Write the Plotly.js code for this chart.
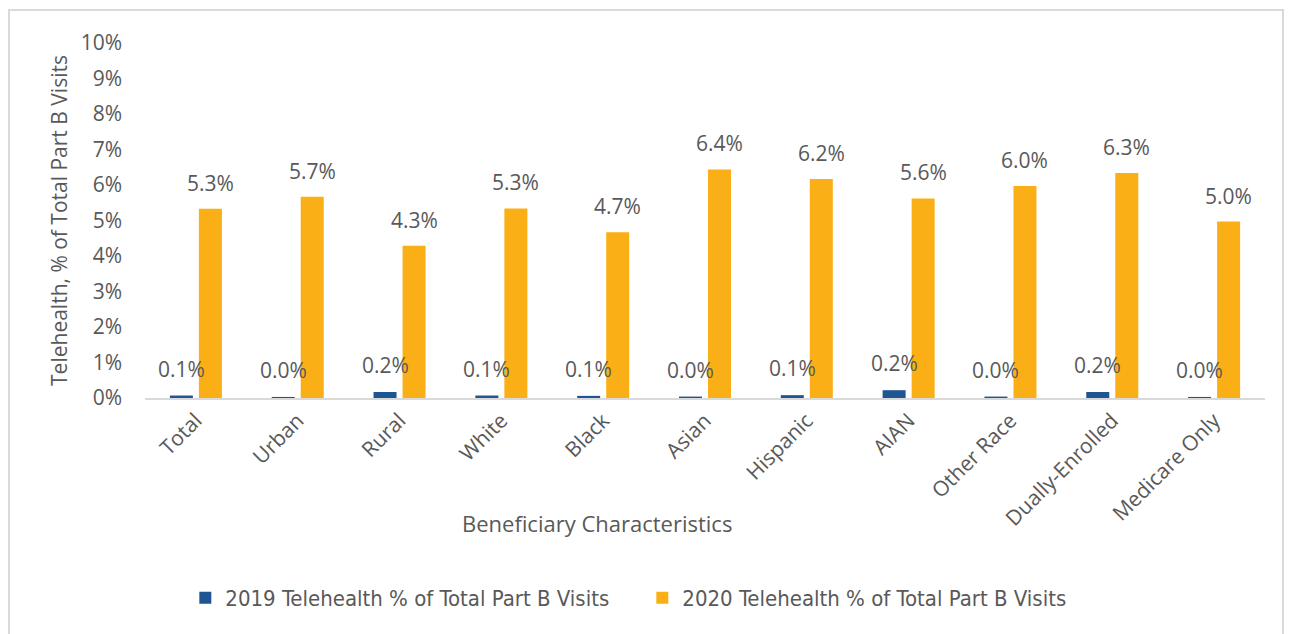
<!DOCTYPE html>
<html><head><meta charset="utf-8">
<script src="https://cdn.plot.ly/plotly-3.0.1.min.js"></script>
<style>
html,body{margin:0;padding:0;background:#fff;}
#frame{position:absolute;left:8px;top:9px;width:1276px;height:640px;border:2px solid #d9d9d9;box-sizing:border-box;}
#chart{position:absolute;left:0;top:0;width:1294px;height:634px;}
</style></head>
<body>
<div id="frame"></div>
<div id="chart"></div>
<script>
const categories = ["Total","Urban","Rural","White","Black","Asian","Hispanic","AIAN","Other Race","Dually-Enrolled","Medicare Only"];
const values2019 = [0.07,0.03,0.17,0.07,0.06,0.04,0.08,0.22,0.04,0.17,0.03];
const values2020 = [5.33,5.67,4.29,5.34,4.67,6.44,6.17,5.62,5.97,6.34,4.97];
const yTickVals = [0,1,2,3,4,5,6,7,8,9,10];
const yTickText = yTickVals.map(v => v + "%");
const name2019 = "2019 Telehealth % of Total Part B Visits";
const name2020 = "2020 Telehealth % of Total Part B Visits";
const xTitle = "Beneficiary Characteristics";
const yTitle = "Telehealth, % of Total Part B Visits";

const blue = "#1f5592", orange = "#fbaf17", textGray = "#595959";
const mainFont = "'Open Sans', 'Noto Sans', sans-serif";

const traces = [
  {type:"bar", name:name2019, x:categories, y:values2019, marker:{color:blue}, hoverinfo:"skip"},
  {type:"bar", name:name2020, x:categories, y:values2020, marker:{color:orange}, hoverinfo:"skip"}
];

const slot = 29;
const annotations = [];
categories.forEach((c,i) => {
  annotations.push({x:c, y:values2019[i], xref:"x", yref:"y", text:values2019[i].toFixed(1)+"%", showarrow:false, xshift:-slot/2, yshift:27, yanchor:"middle", font:{family:mainFont,size:21,color:textGray}});
  annotations.push({x:c, y:values2020[i], xref:"x", yref:"y", text:values2020[i].toFixed(1)+"%", showarrow:false, xshift:slot/2, yshift:26, yanchor:"middle", font:{family:mainFont,size:21,color:textGray}});
});
annotations.push({x:0.4036, y:-0.352, xref:"paper", yref:"paper", text:xTitle, showarrow:false, xanchor:"center", yanchor:"middle", font:{family:mainFont,size:22,color:textGray}});

const layout = {
  width:1294, height:634,
  margin:{l:145, r:29, t:43, b:236},
  paper_bgcolor:"rgba(0,0,0,0)", plot_bgcolor:"rgba(0,0,0,0)",
  barmode:"group", bargap:0.43, bargroupgap:0.207,
  font:{family:mainFont, color:textGray},
  showlegend:true,
  legend:{orientation:"h", x:0.036, xanchor:"left", y:-0.563, yanchor:"middle",
          font:{family:"'Liberation Sans Narrow','DejaVu Sans Condensed',sans-serif", size:22, color:textGray},
          itemwidth:30, entrywidth:412, entrywidthmode:"pixels", tracegroupgap:0, traceorder:"normal"},
  xaxis:{type:"category", showgrid:false, zeroline:false, showline:true, linecolor:"#d9d9d9", linewidth:2,
         ticks:"", tickangle:-45, tickfont:{family:mainFont,size:21,color:textGray}},
  yaxis:{range:[0,10], tickvals:yTickVals, ticktext:yTickText, showgrid:false, zeroline:false, showline:false,
         ticks:"", ticklabelstandoff:22, tickfont:{family:mainFont,size:21,color:textGray},
         title:{text:yTitle, font:{family:mainFont,size:21,color:textGray}, standoff:7}},
  annotations:annotations
};

Plotly.newPlot("chart", traces, layout, {staticPlot:true, displayModeBar:false});
</script>
</body></html>
